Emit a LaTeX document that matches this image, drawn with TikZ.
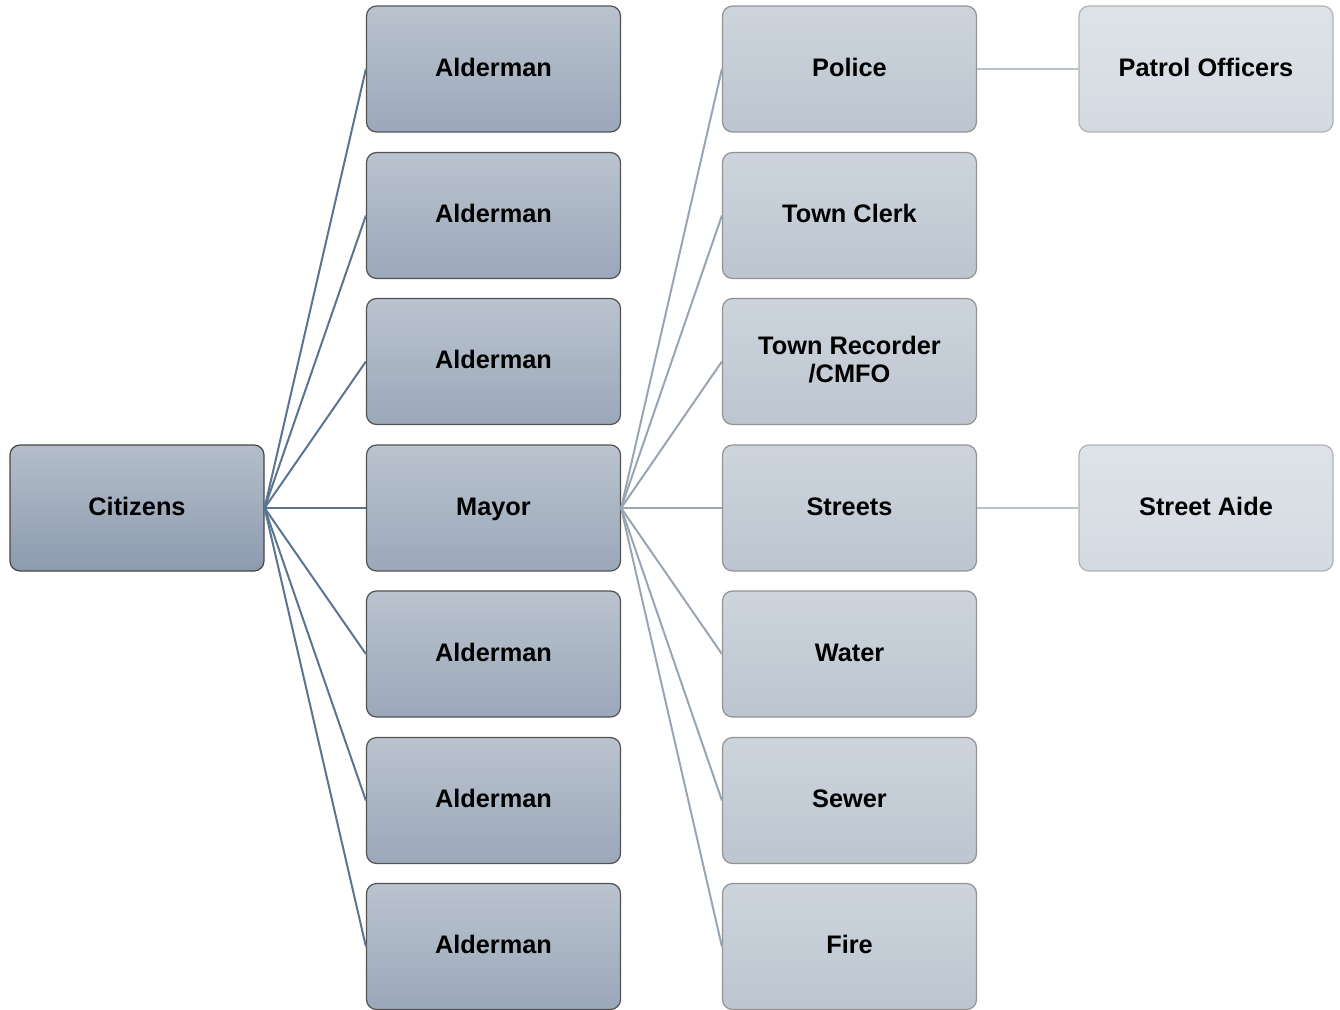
\documentclass[tikz,border=0pt]{standalone}
\usepackage{fontspec}
\setmainfont{Liberation Sans}
\begin{document}
\begin{tikzpicture}[x=0.75pt,y=-0.75pt,
  base/.style={rectangle,rounded corners=7.5pt,minimum width=190.5pt,minimum height=94.5pt,
    line width=0.9pt,font=\fontsize{19}{21}\selectfont\bfseries,align=center,inner sep=0pt,
    text height=14pt,text depth=3.4pt},
  lvA/.style={base,draw=black!45!gray,top color=lA1,bottom color=lA2},
  lvB/.style={base,draw=black!35!gray,top color=lB1,bottom color=lB2},
  lvC/.style={base,draw=gray!85,top color=lC1,bottom color=lC2},
  lvD/.style={base,draw=gray!60,top color=lD1,bottom color=lD2},
  linkA/.style={draw=cA,line width=1.5pt},
  linkB/.style={draw=cB,line width=1.5pt},
  linkC/.style={draw=cC,line width=1.5pt}]
\definecolor{lA1}{HTML}{B4BECA}\definecolor{lA2}{HTML}{8D9BAF}
\definecolor{lB1}{HTML}{BAC3CE}\definecolor{lB2}{HTML}{9BA8BA}
\definecolor{lC1}{HTML}{CDD4DC}\definecolor{lC2}{HTML}{BCC5D0}
\definecolor{lD1}{HTML}{DEE3E9}\definecolor{lD2}{HTML}{D4DAE1}
\definecolor{cA}{HTML}{5B7591}\definecolor{cB}{HTML}{9AA5B3}\definecolor{cC}{HTML}{B9C1CA}
\useasboundingbox (0,0) rectangle (1340,1010);
\node[lvA] (cit) at (137,508) {Citizens};
\node[lvB] (a1) at (493.5,69) {Alderman};
\node[lvB] (a2) at (493.5,215.5) {Alderman};
\node[lvB] (a3) at (493.5,361.5) {Alderman};
\node[lvB] (may) at (493.5,508) {Mayor};
\node[lvB] (a4) at (493.5,654) {Alderman};
\node[lvB] (a5) at (493.5,800.5) {Alderman};
\node[lvB] (a6) at (493.5,946.5) {Alderman};
\node[lvC] (pol) at (849.5,69) {Police};
\node[lvC] (clk) at (849.5,215.5) {Town Clerk};
\node[lvC,text height=35pt,text depth=3.4pt] (rec) at (849.5,361.5) {Town Recorder\\/CMFO};
\node[lvC] (str) at (849.5,508) {Streets};
\node[lvC] (wat) at (849.5,654) {Water};
\node[lvC] (sew) at (849.5,800.5) {Sewer};
\node[lvC] (fir) at (849.5,946.5) {Fire};
\node[lvD] (pat) at (1206,69) {Patrol Officers};
\node[lvD] (aid) at (1206,508) {Street Aide};
\foreach \t in {a1,a2,a3,may,a4,a5,a6} \draw[linkA] (cit.east) -- (\t.west);
\foreach \t in {pol,clk,rec,str,wat,sew,fir} \draw[linkB] (may.east) -- (\t.west);
\draw[linkC] (pol.east) -- (pat.west);
\draw[linkC] (str.east) -- (aid.west);
\end{tikzpicture}
\end{document}
